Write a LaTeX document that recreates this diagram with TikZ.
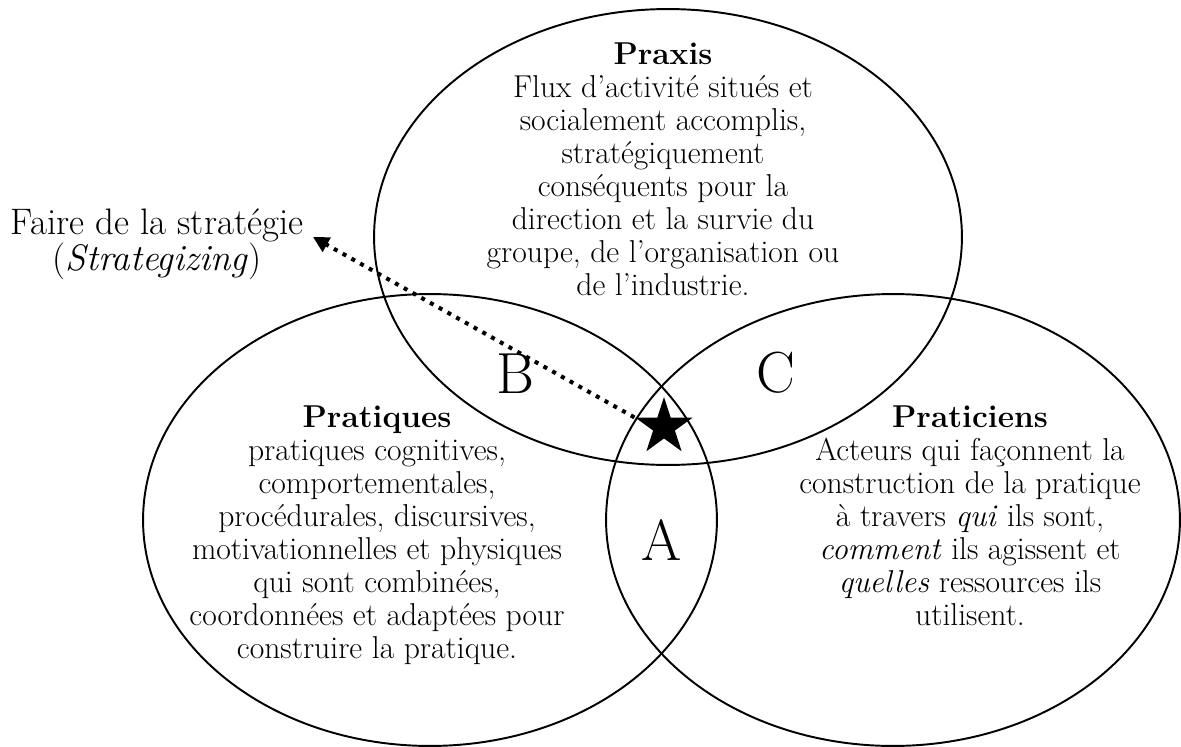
\documentclass[tikz,border=0pt]{standalone}
\usepackage{fontspec}
\usetikzlibrary{shapes.geometric,arrows.meta,positioning}

\tikzset{
  setnode/.style={draw, ellipse, line width=1.1pt, inner sep=0pt, outer sep=0pt},
  blocktext/.style={align=center, inner sep=0pt, font=\fontsize{18}{18.8}\selectfont},
  zonelabel/.style={inner sep=0pt, font=\fontsize{33}{38}\selectfont},
  dotarrow/.style={line width=2.3pt, dash pattern=on 2.3pt off 3.4pt,
    -{Triangle[length=9pt,width=9pt]}}
}

\begin{document}
\begin{tikzpicture}[x=0.02cm, y=-0.02cm]
        % Define page frame
        \useasboundingbox (0,0) rectangle (1181,747);

        % Draw the three sets
        \node[setnode, minimum width=11.76cm, minimum height=9.12cm] (praxis) at (668,237) {};
        \node[setnode, minimum width=11.48cm, minimum height=9.04cm] (pratiques) at (430,520) {};
        \node[setnode, minimum width=11.48cm, minimum height=9.04cm] (praticiens) at (893,520) {};

        % Texts inside the sets
        \node[blocktext, anchor=north] (praxistext) at (663,42) {%
            \textbf{Praxis}\\
            Flux d'activité situés et\\
            socialement accomplis,\\
            stratégiquement\\
            conséquents pour la\\
            direction et la survie du\\
            groupe, de l'organisation ou\\
            de l'industrie.};
        \node[blocktext, anchor=north] (pratiquestext) at (377,405) {%
            \textbf{Pratiques}\\
            pratiques cognitives,\\
            comportementales,\\
            procédurales, discursives,\\
            motivationnelles et physiques\\
            qui sont combinées,\\
            coordonnées et adaptées pour\\
            construire la pratique.};
        \node[blocktext, anchor=north] (praticienstext) at (970,405) {%
            \textbf{Praticiens}\\
            Acteurs qui façonnent la\\
            construction de la pratique\\
            à travers \textit{qui} ils sont,\\
            \textit{comment} ils agissent et\\
            \textit{quelles} ressources ils\\
            utilisent.};

        % Overlap zones
        \node[zonelabel] (zoneB) at (515,374) {B};
        \node[zonelabel] (zoneC) at (776,373) {C};
        \node[zonelabel] (zoneA) at (662,540) {A};

        % Star and the strategizing arrow
        \coordinate (arrowtip) at (313,237);
        \node[star, star points=5, star point ratio=2.618, fill=black,
            minimum size=1.2cm, inner sep=0pt] (centre) at (664,427) {};
        \draw[dotarrow] (centre.outer point 2) -- (arrowtip);
        \node[blocktext, font=\fontsize{21}{20.5}\selectfont] (strat) at (157,244) {%
            Faire de la stratégie\\
            (\textit{Strategizing})};
\end{tikzpicture}
\end{document}
